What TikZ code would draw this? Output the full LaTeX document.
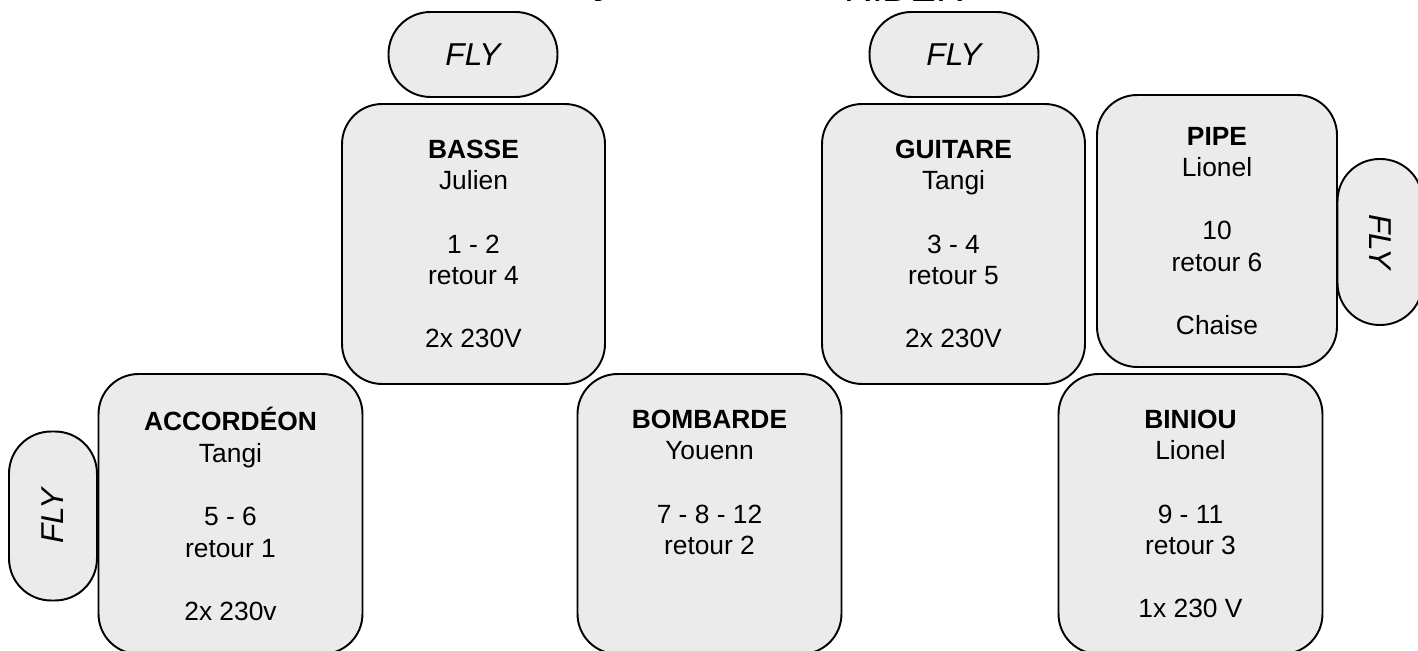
\documentclass[tikz,border=0pt]{standalone}
\usepackage{fontspec}
\setmainfont{Liberation Sans}
\usepackage{xcolor}
\definecolor{boxgray}{HTML}{EBEBEB}

\begin{document}
\begin{tikzpicture}[x=0.02cm, y=-0.02cm,
  part/.style={draw, line width=1.1pt, fill=boxgray, rounded corners=0.8cm,
    align=center, inner sep=0pt, minimum width=5.28cm, minimum height=5.6cm,
    font=\fontsize{15}{18}\selectfont},
  fly/.style={draw, line width=1.1pt, fill=boxgray, rounded corners=0.84cm,
    inner sep=0pt, minimum width=3.38cm, minimum height=1.7cm,
    font=\fontsize{18}{22}\selectfont\itshape}]
  \path[use as bounding box, clip] (0,0) rectangle (1418,651);

  % Title (cut off at the top)
  \node[anchor=base, font=\fontsize{22}{26}\selectfont\bfseries] (band) at (604,-6) {y};
  \node[anchor=base west, font=\fontsize{22}{26}\selectfont] (rider) at (838,2) {RIDER};

  % Musicians, top row
  \node[part, minimum width=5.26cm] (basse) at (473.5,244)
    {\textbf{BASSE}\\Julien\\~\\1 - 2\\retour 4\\~\\2x 230V};
  \node[part, minimum width=5.26cm] (guitare) at (953.5,244)
    {\textbf{GUITARE}\\Tangi\\~\\3 - 4\\retour 5\\~\\2x 230V};
  \node[part, minimum width=4.8cm, minimum height=5.44cm] (pipe) at (1217,231)
    {\textbf{PIPE}\\Lionel\\~\\10\\retour 6\\~\\Chaise};

  % Musicians, bottom row
  \node[part] (accordeon) at (230.5,514)
    {\textbf{ACCORDÉON}\\Tangi\\~\\5 - 6\\retour 1\\~\\2x 230v};
  \node[part] (bombarde) at (709.5,514)
    {\textbf{BOMBARDE}\\Youenn\\~\\7 - 8 - 12\\retour 2\\~\\~};
  \node[part] (biniou) at (1190.5,514)
    {\textbf{BINIOU}\\Lionel\\~\\9 - 11\\retour 3\\~\\1x 230 V};

  % Fly
  \node[fly] (flybasse) at (473,54.5) {FLY};
  \node[fly] (flyguitare) at (954,54.5) {FLY};
  \node[fly, rotate=-90, minimum width=3.32cm] (flypipe) at (1380,242) {FLY};
  \node[fly, rotate=90, minimum height=1.76cm] (flyaccordeon) at (53,516) {FLY};
\end{tikzpicture}
\end{document}
